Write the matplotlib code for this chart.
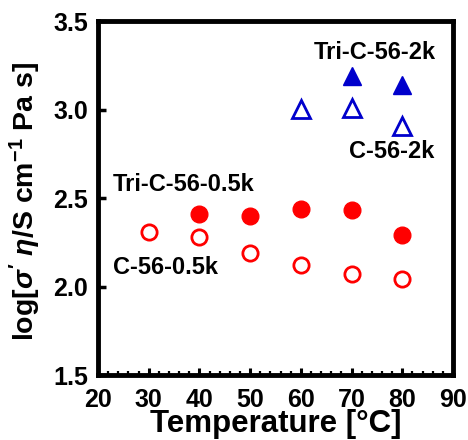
import matplotlib
matplotlib.use("Agg")
import matplotlib.pyplot as plt
from matplotlib.ticker import MultipleLocator, FormatStrFormatter

plt.rcParams['font.family'] = ['Liberation Sans', 'DejaVu Sans']
plt.rcParams['font.weight'] = 'bold'
plt.rcParams['mathtext.fontset'] = 'custom'
plt.rcParams['mathtext.rm'] = 'Liberation Sans:bold'
plt.rcParams['mathtext.it'] = 'Liberation Sans:italic:bold'
plt.rcParams['mathtext.bf'] = 'Liberation Sans:bold'

# Data
temp_tri_05k = [40, 50, 60, 70, 80]
val_tri_05k = [2.41, 2.40, 2.44, 2.43, 2.29]
temp_c_05k = [30, 40, 50, 60, 70, 80]
val_c_05k = [2.31, 2.28, 2.19, 2.12, 2.07, 2.045]
temp_tri_2k = [70, 80]
val_tri_2k = [3.19, 3.14]
temp_c_2k = [60, 70, 80]
val_c_2k = [3.005, 3.01, 2.91]

fig = plt.figure(figsize=(4.68, 4.40), dpi=100)
ax = fig.add_axes([0.2094, 0.1477, 0.968 - 0.2094, 0.952 - 0.1477])

red = '#ff0000'
blue = '#0000cc'
ax.plot(temp_tri_05k, val_tri_05k, 'o', ms=12, mfc=red, mec=red, mew=1.0, ls='none')
ax.plot(temp_c_05k, val_c_05k, 'o', ms=11, mfc='white', mec=red, mew=2.0, ls='none')
ax.plot(temp_tri_2k, val_tri_2k, '^', ms=13.5, mfc=blue, mec=blue, mew=1.0, ls='none')
ax.plot(temp_c_2k, val_c_2k, '^', ms=12.5, mfc='white', mec=blue, mew=2.0, ls='none')

ax.set_xlim(20, 90)
ax.set_ylim(1.5, 3.5)
ax.xaxis.set_major_locator(MultipleLocator(10))
ax.xaxis.set_minor_locator(MultipleLocator(2))
ax.yaxis.set_major_locator(MultipleLocator(0.5))
ax.yaxis.set_major_formatter(FormatStrFormatter('%.1f'))

for s in ax.spines.values():
    s.set_linewidth(3.5)

ax.tick_params(axis='x', which='major', direction='in', length=5, width=2.2, labelsize=18, pad=9)
ax.tick_params(axis='x', which='minor', direction='in', length=3, width=1.6)
ax.tick_params(axis='y', which='major', direction='in', length=5.5, width=2.5, labelsize=18, pad=7)
ax.tick_params(top=False, right=False)
for lab in ax.get_xticklabels() + ax.get_yticklabels():
    lab.set_fontweight('bold')

ax.set_xlabel('Temperature [°C]', fontsize=22.5, fontweight='bold')
ax.xaxis.label.set_va('baseline')
ax.xaxis.set_label_coords(0.5, -0.162)
ax.set_ylabel(r"log[$\sigma'$ $\eta$/S cm$^{-1}$ Pa s]", fontsize=20.5, fontweight='bold')
ax.yaxis.set_label_coords(-0.155, 0.49)

fs = 17
ax.text(74.5, 3.284, 'Tri-C-56-2k', fontsize=fs, fontweight='bold', ha='center', va='baseline')
ax.text(77.9, 2.726, 'C-56-2k', fontsize=fs, fontweight='bold', ha='center', va='baseline')
ax.text(23.0, 2.538, 'Tri-C-56-0.5k', fontsize=fs, fontweight='bold', ha='left', va='baseline')
ax.text(23.0, 2.069, 'C-56-0.5k', fontsize=fs, fontweight='bold', ha='left', va='baseline')

fig.savefig('out.png', dpi=100)
